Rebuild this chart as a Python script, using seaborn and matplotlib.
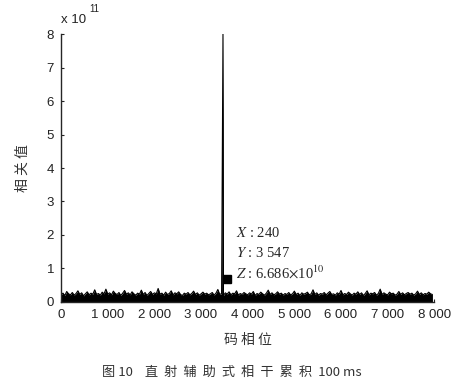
import numpy as np
import matplotlib
matplotlib.use("Agg")
import matplotlib.pyplot as plt
import seaborn as sns

# --- data (correlation values in units of 1e11) ---
code_phase_step = 40
noise_floor = [
    0.22, 0.26, 0.19, 0.31, 0.24, 0.21, 0.28, 0.20, 0.25, 0.33, 0.22, 0.27, 0.18, 0.24, 0.30, 0.21, 0.26, 0.23, 0.36, 0.22,
    0.25, 0.20, 0.29, 0.24, 0.38, 0.23, 0.27, 0.21, 0.32, 0.25, 0.22, 0.28, 0.19, 0.26, 0.34, 0.23, 0.27, 0.21, 0.30, 0.24,
    0.20, 0.26, 0.23, 0.35, 0.22, 0.28, 0.19, 0.25, 0.31, 0.22, 0.27, 0.24, 0.40, 0.23, 0.26, 0.20, 0.29, 0.22, 0.25, 0.33,
    0.21, 0.27, 0.24, 0.30, 0.22, 0.19, 0.26, 0.23, 0.28, 0.21, 0.25, 0.32, 0.22, 0.27, 0.20, 0.24, 0.29, 0.23, 0.26, 0.21,
    0.24, 0.28, 0.20, 0.26, 0.37, 0.22, 0.25, 0.19, 0.27, 0.23, 0.30, 0.21, 0.26, 0.24, 0.33, 0.20, 0.25, 0.22, 0.28, 0.24,
    0.21, 0.27, 0.23, 0.31, 0.19, 0.25, 0.22, 0.29, 0.24, 0.20, 0.26, 0.35, 0.22, 0.27, 0.21, 0.24, 0.30, 0.23, 0.26, 0.20,
    0.25, 0.22, 0.28, 0.21, 0.24, 0.32, 0.22, 0.26, 0.19, 0.27, 0.23, 0.25, 0.29, 0.21, 0.24, 0.36, 0.22, 0.27, 0.20, 0.25,
    0.23, 0.28, 0.21, 0.26, 0.31, 0.22, 0.24, 0.20, 0.27, 0.23, 0.34, 0.21, 0.25, 0.22, 0.29, 0.24, 0.20, 0.26, 0.23, 0.30,
    0.22, 0.27, 0.19, 0.25, 0.33, 0.21, 0.26, 0.24, 0.28, 0.20, 0.25, 0.38, 0.22, 0.27, 0.23, 0.21, 0.29, 0.24, 0.26, 0.20,
    0.23, 0.31, 0.22, 0.27, 0.21, 0.25, 0.28, 0.23, 0.26, 0.20, 0.24, 0.32, 0.22, 0.27, 0.21, 0.25, 0.23, 0.29, 0.24, 0.22,
]
peak_phase = 3470
peak_value = 8.05
tip_doppler = 240
tip_phase = 3547
tip_value = 0.6686

x_ticks = [0, 1000, 2000, 3000, 4000, 5000, 6000, 7000, 8000]
x_tick_labels = ["0", "1 000", "2 000", "3 000", "4 000", "5 000", "6 000", "7 000", "8 000"]
y_ticks = [0, 1, 2, 3, 4, 5, 6, 7, 8]

# --- style ---
sns.set_style("ticks")
plt.rcParams["font.family"] = ["Liberation Sans", "Noto Sans CJK SC", "DejaVu Sans"]
plt.rcParams["mathtext.fontset"] = "stix"

phase = np.arange(len(noise_floor)) * code_phase_step
corr = np.array(noise_floor)
# put the correlation peak into the series
idx = np.searchsorted(phase, peak_phase)
phase = np.insert(phase, idx, peak_phase)
corr = np.insert(corr, idx, peak_value)

fig = plt.figure(figsize=(4.63, 3.88), dpi=100)
ax = fig.add_axes([0.132, 0.222, 0.806, 0.69])

ax.fill_between(phase, 0, corr, color="black", linewidth=0)
sns.lineplot(x=phase, y=corr, ax=ax, color="black", linewidth=0.8)
ax.plot([tip_phase], [tip_value], marker="s", markersize=5.5, color="black")

ax.set_xlim(0, 8000)
ax.set_ylim(0, 8)
ax.set_xticks(x_ticks)
ax.set_xticklabels(x_tick_labels)
ax.set_yticks(y_ticks)
ax.tick_params(direction="in", length=2.5, width=0.8, labelsize=9.5, colors="#222222", pad=5)
for s in ["top", "right"]:
    ax.spines[s].set_visible(False)
for s in ["left", "bottom"]:
    ax.spines[s].set_linewidth(1.0)

ax.set_xlabel("码 相 位", family=["Noto Sans CJK SC"], fontsize=10, color="#333333", labelpad=9)
ax.set_ylabel("相 关 值", family=["Noto Sans CJK SC"], fontsize=10, color="#333333", labelpad=12)

# exponent label
ax.text(0.0, 1.03, "x 10", transform=ax.transAxes, fontsize=9.5, color="#222222", ha="left", va="bottom")
ax.text(0.075, 1.075, "11", transform=ax.transAxes, fontsize=7, color="#222222", ha="left", va="bottom")

# data tip
tip_x = 3750
ax.text(tip_x, 2.06, r"$X$ : %d" % tip_doppler, fontsize=10.5, va="center")
ax.text(tip_x, 1.47, r"$Y$ : 3 547", fontsize=10.5, va="center")
ax.text(tip_x, 0.87, r"$Z$ : 6.686$\times$10$^{10}$", fontsize=10.5, va="center")
for t in ax.texts[-3:]:
    t.set_fontfamily(["Liberation Serif"])

fig.text(0.50, 0.041, "图 10    直  射  辅  助  式  相  干  累  积  100 ms",
         family=["Noto Sans CJK SC", "Liberation Serif"], fontsize=9.5, color="#333333",
         ha="center", va="center")

fig.savefig("out.png", dpi=100)
